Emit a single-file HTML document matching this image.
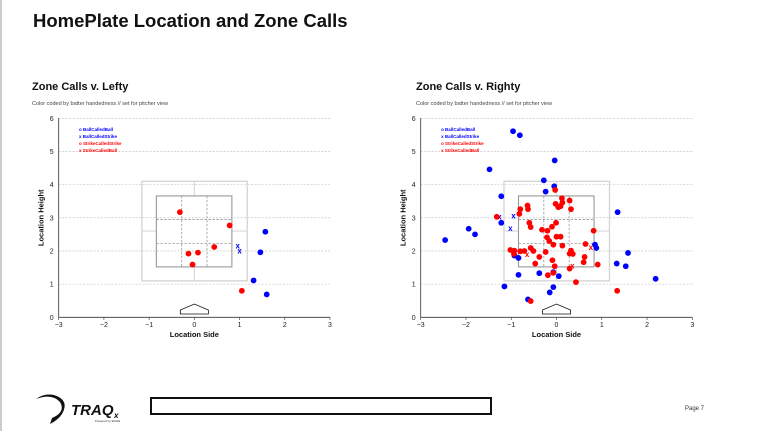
<!DOCTYPE html>
<html><head><meta charset="utf-8"><style>
body{margin:0;background:#fff;font-family:"Liberation Sans",sans-serif;}
#wrap{position:relative;width:769px;height:431px;overflow:hidden;border-left:2px solid #ccc;box-sizing:border-box;}
</style></head><body>
<div id="wrap">
<svg id="svg" width="769" height="431" style="position:absolute;left:-2px;top:0">
<text x="33" y="27" font-size="18.5" font-weight="bold" fill="#111">HomePlate Location and Zone Calls</text>
<g id="lp"></g><g id="rp"></g>
<g>
<path d="M36 399 Q52 393 60 402 Q66 412 52 418 L50 424 Q58 420 62 414 Q70 400 54 395 Q44 393 36 399Z" fill="#111"/>
<text x="71" y="415" font-size="15" font-weight="bold" font-style="italic" fill="#111">TRAQ</text>
<text x="114" y="418" font-size="8" font-weight="bold" font-style="italic" fill="#111">x</text>
<text x="95" y="422" font-size="3" fill="#333">Powered by EDGE</text>
</g>
<rect x="151" y="398" width="340" height="16" fill="none" stroke="#111" stroke-width="2"/>
<text x="685" y="410" font-size="6" fill="#333">Page 7</text>
</svg>
</div>
<script>
const xTicks=[-3,-2,-1,0,1,2,3];
const yTicks=[0,1,2,3,4,5,6];
const legendLabels=["o BallCalledBall","x BallCalledStrike","o StrikeCalledStrike","x StrikeCalledBall"];
const legendColors=["#00f","#00f","#f00","#f00"];
// Lefty
const lBallX=[1.57,1.46,1.31,1.6];
const lBallY=[2.58,1.96,1.11,0.69];
const lBallStrikeX=[0.96,1.0];
const lBallStrikeY=[2.15,2.0];
const lStrikeX=[-0.32,0.78,0.44,0.08,-0.13,-0.04,1.05];
const lStrikeY=[3.17,2.77,2.12,1.95,1.92,1.59,0.8];
const lStrikeBallX=[];
const lStrikeBallY=[];
// Righty
const rBallX=[-2.46,-1.94,-1.8,-1.48,-1.22,-1.22,-0.96,-0.81,-1.15,-0.93,-0.84,-0.84,-0.63,-0.38,-0.28,-0.24,-0.15,-0.07,-0.07,-0.04,-0.05,0.05,0.85,0.88,1.35,1.33,1.53,1.58,2.19];
const rBallY=[2.33,2.67,2.5,4.46,3.65,2.85,5.61,5.49,0.93,1.86,1.79,1.28,0.54,1.33,4.13,3.79,0.75,0.91,1.36,4.73,3.95,1.24,2.19,2.09,3.17,1.62,1.54,1.94,1.16];
const rBallStrikeX=[-1.26,-0.95,-1.02];
const rBallStrikeY=[3.02,3.06,2.67];
const rStrikeX=[-1.32,-1.02,-0.93,-0.94,-0.8,-0.82,-0.8,-0.71,-0.64,-0.63,-0.6,-0.57,-0.57,-0.51,-0.47,-0.38,-0.32,-0.24,-0.2,-0.21,-0.16,-0.19,-0.1,-0.07,-0.09,-0.07,-0.04,-0.03,-0.02,-0.01,0,0.04,0.09,0.09,0.13,0.12,0.13,0.29,0.32,0.29,0.32,0.36,0.29,0.43,0.62,0.6,0.64,0.82,0.91,1.34,-0.57];
const rStrikeY=[3.03,2.03,2.01,1.91,3.26,3.12,1.99,2.0,3.37,3.26,2.85,2.72,2.09,2.0,1.62,1.82,2.64,1.97,2.61,2.41,2.3,1.27,2.73,2.19,1.72,1.34,1.54,3.84,3.42,2.85,2.43,3.32,2.43,3.35,3.46,3.59,2.16,3.52,3.26,1.92,2.01,1.91,1.47,1.06,1.82,1.66,2.21,2.61,1.59,0.8,0.49];
const rStrikeBallX=[-0.65,0.35,0.76];
const rStrikeBallY=[1.89,1.54,2.11];

const NS="http://www.w3.org/2000/svg";
function mk(p,t,a){const e=document.createElementNS(NS,t);for(const k in a)e.setAttribute(k,a[k]);p.appendChild(e);return e;}
function plot(gid,x0,x1,title,xs){
 const g=document.getElementById(gid);
 const sx=v=>x0+(v+3)/6*(x1-x0), sy=v=>317.3-v*(199/6);
 let t=mk(g,'text',{x:xs,y:90,'font-size':11,'font-weight':'bold',fill:'#111'});t.textContent=title;
 
 
 t=mk(g,'text',{x:xs,y:105,'font-size':5.5,fill:'#444'});t.textContent='Color coded by batter handedness // set for pitcher view';
 
 
 yTicks.forEach(v=>{
  if(v>0){const l=mk(g,'line',{x1:x0,x2:x1,y1:sy(v),y2:sy(v),stroke:'#bbb','stroke-width':0.6,'stroke-dasharray':'2,1.5'});
  
  }
  const tx=mk(g,'text',{x:x0-5,y:sy(v)+2.5,'font-size':7,'text-anchor':'end',fill:'#222'});tx.textContent=v;
  
  
 });
 xTicks.forEach(v=>{
  mk(g,'line',{x1:sx(v),x2:sx(v),y1:317.3,y2:320,stroke:'#333','stroke-width':0.6});
  const tx=mk(g,'text',{x:sx(v),y:327,'font-size':7,'text-anchor':'middle',fill:'#222'});tx.textContent=(v<0?'\u2212'+(-v):v);
  
  
 });
 mk(g,'line',{x1:x0,x2:x1,y1:317.3,y2:317.3,stroke:'#333','stroke-width':0.8});
 mk(g,'line',{x1:x0,x2:x0,y1:118,y2:317.3,stroke:'#333','stroke-width':0.8});
 t=mk(g,'text',{x:(x0+x1)/2,y:337,'font-size':7.5,'font-weight':'bold','text-anchor':'middle',fill:'#111'});t.textContent='Location Side';
 
 
 t=mk(g,'text',{x:0,y:0,'font-size':7.5,'font-weight':'bold','text-anchor':'middle',fill:'#111',transform:`translate(${x0-15},${sy(3)}) rotate(-90)`});t.textContent='Location Height';
 
 
 const z=mk(g,'g',{});
 
 
 mk(z,'rect',{x:sx(-1.16),y:sy(4.1),width:sx(1.17)-sx(-1.16),height:sy(1.1)-sy(4.1),fill:'none',stroke:'#d4d4d4','stroke-width':1.3});
 mk(z,'line',{x1:sx(0),x2:sx(0),y1:sy(4.1),y2:sy(3.66),stroke:'#d4d4d4'});
 mk(z,'line',{x1:sx(0),x2:sx(0),y1:sy(1.52),y2:sy(1.1),stroke:'#d4d4d4'});
 mk(z,'line',{x1:sx(-1.16),x2:sx(-0.84),y1:sy(2.6),y2:sy(2.6),stroke:'#d4d4d4'});
 mk(z,'line',{x1:sx(0.83),x2:sx(1.17),y1:sy(2.6),y2:sy(2.6),stroke:'#d4d4d4'});
 mk(z,'rect',{x:sx(-0.84),y:sy(3.66),width:sx(0.83)-sx(-0.84),height:sy(1.52)-sy(3.66),fill:'none',stroke:'#999','stroke-width':1.1});
 [-0.28,0.28].forEach(v=>mk(z,'line',{x1:sx(v),x2:sx(v),y1:sy(3.66),y2:sy(1.52),stroke:'#999','stroke-dasharray':'2.5,1.5','stroke-width':0.8}));
 [2.95,2.23].forEach(v=>mk(z,'line',{x1:sx(-0.84),x2:sx(0.83),y1:sy(v),y2:sy(v),stroke:'#999','stroke-dasharray':'2.5,1.5','stroke-width':0.8}));
 const hp=mk(g,'path',{d:`M${sx(-0.31)} ${sy(0.1)} L${sx(0.31)} ${sy(0.1)} L${sx(0.31)} ${sy(0.22)} L${sx(0)} ${sy(0.4)} L${sx(-0.31)} ${sy(0.22)}Z`,fill:'#fff',stroke:'#111','stroke-width':0.8});
 
 
 legendLabels.forEach((s,i)=>{const tx=mk(g,'text',{x:sx(-2.55),y:sy(5.62)+i*7,'font-size':4.5,'font-weight':'bold',fill:legendColors[i]});tx.textContent=s;
  
  });
 return {g,sx,sy};
}
function dots(P,X,Y,c,name){X.forEach((v,i)=>{const e=mk(P.g,'circle',{cx:P.sx(v),cy:P.sy(Y[i]),r:2.9,fill:c});
 
 });}
function xs(P,X,Y,c,name){X.forEach((v,i)=>{const e=mk(P.g,'text',{x:P.sx(v),y:P.sy(Y[i])+2.5,'font-size':8,'font-weight':'bold','text-anchor':'middle',fill:c});e.textContent='x';
 
 });}
const L=plot('lp',58.7,330,'Zone Calls v. Lefty',32);
dots(L,lBallX,lBallY,'#00f','ball-called-ball');xs(L,lBallStrikeX,lBallStrikeY,'#00f','ball-called-strike');
dots(L,lStrikeX,lStrikeY,'#f00','strike-called-strike');xs(L,lStrikeBallX,lStrikeBallY,'#f00','strike-called-ball');
const R=plot('rp',420.7,692.3,'Zone Calls v. Righty',416);
dots(R,rBallX,rBallY,'#00f','ball-called-ball');xs(R,rBallStrikeX,rBallStrikeY,'#00f','ball-called-strike');
dots(R,rStrikeX,rStrikeY,'#f00','strike-called-strike');xs(R,rStrikeBallX,rStrikeBallY,'#f00','strike-called-ball');
</script>
</body></html>
